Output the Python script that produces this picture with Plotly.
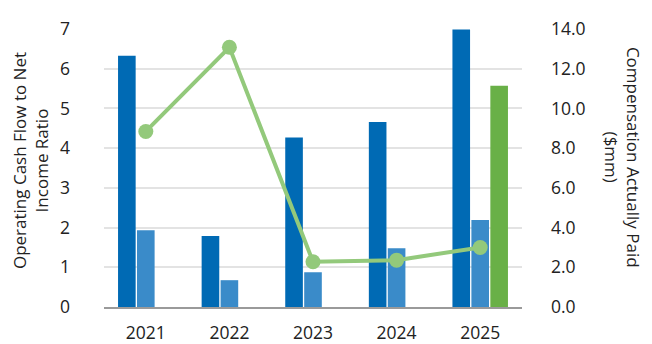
import plotly.graph_objects as go

# Fiscal years on the category axis
years = ["2021", "2022", "2023", "2024", "2025"]

# Compensation actually paid ($mm), right-hand axis
cap_peo = [12.65, 3.57, 8.53, 9.32, 13.97]
cap_neo_avg = [3.87, 1.35, 1.75, 2.96, 4.38]
cap_peo_new = [None, None, None, None, 11.14]

# Operating cash flow to net income ratio, left-hand axis
ocf_ratio = [4.42, 6.54, 1.14, 1.18, 1.50]

FONT = "Open Sans"
TEXT = "#222222"
TICK = dict(family=FONT, size=17.5, color=TEXT)

fig = go.Figure()

fig.add_trace(go.Bar(x=years, y=cap_peo, name="PEO CAP",
                     marker=dict(color="#006ab4", line=dict(width=0)), yaxis="y"))
fig.add_trace(go.Bar(x=years, y=cap_neo_avg, name="Average Non-PEO NEO CAP",
                     marker=dict(color="#3a8bc9", line=dict(width=0)), yaxis="y"))
fig.add_trace(go.Bar(x=years, y=cap_peo_new, name="Current PEO CAP",
                     marker=dict(color="#69b047", line=dict(width=0)), yaxis="y"))

fig.add_trace(go.Scatter(x=years, y=ocf_ratio, name="OCF / Net Income",
                         mode="lines+markers", yaxis="y2",
                         line=dict(color="#93c97b", width=4),
                         marker=dict(color="#93c97b", size=15)))

fig.update_layout(
    width=652, height=344,
    margin=dict(l=104, r=130, t=29, b=37),
    paper_bgcolor="white", plot_bgcolor="white",
    showlegend=False,
    barmode="group", bargap=0.32, bargroupgap=0.07,
    font=dict(family=FONT, size=17, color=TEXT),
    xaxis=dict(
        type="category", range=[-0.5, 4.5],
        showgrid=False, showline=True, linecolor="#9a9a9a", linewidth=2,
        ticks="", ticklabelstandoff=9, automargin=False,
        tickfont=TICK,
    ),
    yaxis=dict(
        side="right", range=[0, 14], dtick=2, tickformat=".1f",
        showgrid=True, gridcolor="#e3e3e3", gridwidth=2, zeroline=False,
        showline=False, ticks="", ticklabelstandoff=28, automargin=False,
        tickfont=TICK,
    ),
    yaxis2=dict(
        side="left", overlaying="y", range=[0, 7], dtick=1,
        showgrid=False, zeroline=False, showline=False,
        ticks="", ticklabelstandoff=33, automargin=False,
        tickfont=TICK,
    ),
    annotations=[
        dict(text="Operating Cash Flow to Net<br>Income Ratio",
             xref="paper", yref="paper", x=-104 / 418 + 30 / 418, y=0.525,
             xanchor="center", yanchor="middle", showarrow=False,
             textangle=-90, font=dict(family=FONT, size=17, color=TEXT)),
        dict(text="Compensation Actually Paid<br>($mm)",
             xref="paper", yref="paper", x=1 + 100 / 418, y=0.54,
             xanchor="center", yanchor="middle", showarrow=False,
             textangle=90, font=dict(family=FONT, size=17, color=TEXT)),
    ],
)

fig.write_html("out.html")
